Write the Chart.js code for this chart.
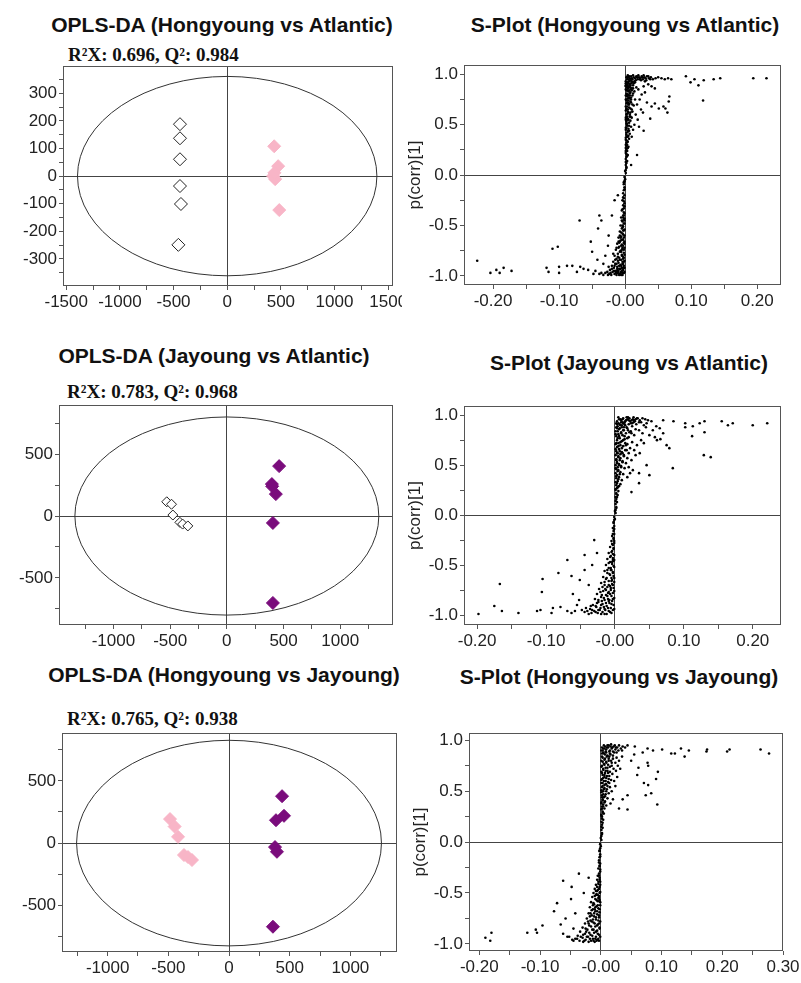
<!DOCTYPE html>
<html>
<head>
<meta charset="utf-8">
<title>OPLS-DA and S-plots</title>
<script src="https://cdn.jsdelivr.net/npm/chart.js@4.4.1/dist/chart.umd.min.js"></script>
<style>
  body { margin: 0; background: #fff; width: 801px; height: 983px; position: relative; overflow: hidden; }
  .t { position: absolute; width: 420px; text-align: center; white-space: nowrap; color: #111;
       font: bold 21px "Liberation Sans", Arial, sans-serif; line-height: 22px; }
  .s { position: absolute; white-space: nowrap; color: #111;
       font: bold 19px "Liberation Serif", "Times New Roman", serif; line-height: 20px; }
  .w { position: absolute; overflow: hidden; }
</style>
</head>
<body>

<div class="t" style="left:12px;top:14px">OPLS-DA (Hongyoung vs Atlantic)</div>
<div class="s" style="left:68px;top:45px">R²X: 0.696, Q²: 0.984</div>
<div class="t" style="left:415px;top:14px">S-Plot (Hongyoung vs Atlantic)</div>

<div class="t" style="left:4px;top:345px">OPLS-DA (Jayoung vs Atlantic)</div>
<div class="s" style="left:67px;top:382px">R²X: 0.783, Q²: 0.968</div>
<div class="t" style="left:419px;top:352px">S-Plot (Jayoung vs Atlantic)</div>

<div class="t" style="left:14px;top:664px">OPLS-DA (Hongyoung vs Jayoung)</div>
<div class="s" style="left:67px;top:709px">R²X: 0.765, Q²: 0.938</div>
<div class="t" style="left:409px;top:666px">S-Plot (Hongyoung vs Jayoung)</div>

<div class="w" id="w1"><canvas id="c1"></canvas></div>
<div class="w" id="w2"><canvas id="c2"></canvas></div>
<div class="w" id="w3"><canvas id="c3"></canvas></div>
<div class="w" id="w4"><canvas id="c4"></canvas></div>
<div class="w" id="w5"><canvas id="c5"></canvas></div>
<div class="w" id="w6"><canvas id="c6"></canvas></div>

<script>
// ---- score plots (t[1] vs to[1]) ----
const haAtlantic = [[-440, 188], [-440, 137], [-440, 61], [-440, -36], [-431, -101], [-455, -249]];
const haHongyoung = [[438, 108], [475, 36], [428, 0], [447, -11], [440, 12], [485, -123]];

const jaAtlantic = [[-530, 115], [-488, 95], [-476, 8], [-414, -51], [-390, -65], [-344, -80]];
const jaJayoung = [[461, 403], [397, 258], [432, 177], [406, -56], [400, 240], [406, -702]];

const hjHongyoung = [[-486, 193], [-448, 133], [-420, 50], [-371, -96], [-338, -112], [-305, -136]];
const hjJayoung = [[437, 377], [453, 219], [387, 184], [379, -32], [395, -70], [362, -672]];

// ---- S-plots: [p[1] x 1000, p(corr)[1] x 100] ----
const sHAPos = [
  [1,2],[1,5],[2,8],[1,10],[2,12],[3,14],[1,16],[2,18],[4,20],[1,22],[3,24],[2,26],[5,28],[1,30],[3,30],[2,32],
  [4,33],[1,35],[6,36],[3,38],[2,40],[7,41],[4,43],[1,45],[5,46],[9,48],[3,49],[2,51],[6,52],[8,54],[1,55],[4,56],
  [10,57],[3,58],[7,60],[2,60],[5,62],[11,63],[1,64],[4,65],[8,66],[3,68],[13,69],[6,70],[2,71],[9,72],[5,74],[1,75],
  [15,75],[7,76],[3,78],[11,79],[4,80],[2,81],[8,82],[14,83],[6,84],[1,85],[10,86],[3,87],[17,87],[5,88],[12,89],[2,90],
  [7,90],[9,91],[4,92],[15,92],[1,93],[6,71],[3,55],[2,47],[4,38],[1,27],[2,66],[5,79],[3,84],[8,62],[2,57],[6,44],
  [4,72],[1,88],[9,77],[12,81],[2,75],[3,90],
  [3,95],[5,97],[7,96],[9,98],[11,95],[13,97],[15,96],[17,98],[19,95],[21,97],[23,96],[25,98],[27,95],[29,97],[31,96],
  [33,98],[36,96],[39,97],[42,95],[46,96],[50,97],[55,96],[4,99],[8,94],[12,99],[16,94],[20,99],[24,94],[28,99],[14,93],
  [18,97],[22,95],[26,97],[10,96],[6,93],[2,97],[32,94],[35,98],[30,93],[38,95],
  [20,85],[25,80],[18,70],[22,75],[28,88],[30,82],[16,60],[19,55],[24,65],[12,45],[14,50],[35,90],[40,88],[45,86],
  [33,72],[27,62],[21,48],[10,38],
  [38,56],[28,44],[18,20],[9,10],[40,68],[45,71],[51,66],[58,68],[61,66],[64,62],[66,73],[67,78],[92,98],[99,92],
  [111,89],[119,94],[134,95],[144,96],[194,96],[214,96],[118,74],[60,95],[65,96],[70,95],[105,95]
];
const sHACorePos = [
  [0,4],[2,7],[1,13],[3,19],[2,21],[1,24],[4,27],[2,29],[3,34],[1,37],[5,39],[2,42],[4,44],[1,47],[6,49],[3,51],
  [2,53],[5,55],[1,57],[7,58],[3,61],[4,63],[2,65],[6,67],[1,68],[5,70],[3,72],[8,73],[2,74],[4,76],[6,77],[1,79],
  [3,80],[7,81],[5,83],[2,84],[9,85],[4,86],[6,87],[1,89],[3,89],[8,89],[5,91],[2,92],[10,93],[7,94],[1,91],[4,95],
  [6,98],[3,97],[11,92],[13,91],[8,87],[10,84],[12,86],[7,79],[9,75],[11,70],[10,65],[8,58]
];
const sHANeg = [
  [-1,-2],[-1,-6],[-2,-9],[-1,-12],[-2,-15],[-3,-18],[-1,-20],[-2,-23],[-4,-25],[-1,-28],[-3,-30],[-2,-33],[-5,-35],
  [-1,-38],[-3,-40],[-6,-42],[-2,-44],[-4,-46],[-1,-48],[-7,-50],[-3,-51],[-5,-53],[-2,-55],[-8,-56],[-4,-58],[-1,-60],
  [-6,-61],[-10,-62],[-3,-64],[-7,-65],[-2,-67],[-12,-68],[-5,-69],[-9,-71],[-1,-72],[-4,-73],[-14,-74],[-7,-75],
  [-2,-77],[-11,-78],[-5,-79],[-16,-80],[-3,-81],[-9,-82],[-13,-83],[-6,-84],[-1,-85],[-18,-86],[-4,-86],[-10,-87],
  [-15,-88],[-7,-89],[-2,-90],[-20,-90],[-12,-91],[-5,-92],[-17,-92],[-9,-93],[-3,-94],[-23,-94],[-14,-95],[-6,-96],
  [-19,-96],[-27,-96],[-11,-97],[-2,-97],[-30,-97],[-16,-98],[-8,-98],[-24,-98],[-4,-99],[-13,-99],[-21,-99],[-33,-99],
  [-36,-97],[-39,-98],[-2,-40],[-3,-55],[-1,-66],[-4,-50],[-6,-70],[-8,-76],[-3,-88],[-11,-85],[-7,-93],[-2,-82],
  [-5,-74],[-1,-45],[-12,-95],[-15,-84],[-20,-93],[-25,-91],[-10,-66],[-8,-60],[-13,-72],[-18,-78],
  [-224,-85],[-204,-97],[-195,-94],[-190,-97],[-184,-92],[-172,-95],[-119,-92],[-116,-96],[-110,-73],[-102,-71],
  [-100,-91],[-100,-97],[-88,-90],[-80,-90],[-73,-96],[-68,-91],[-63,-93],[-56,-94],[-69,-45],[-52,-66],[-41,-53],
  [-39,-40],[-42,-84],[-36,-45],[-50,-76],[-45,-95],[-48,-98],[-30,-80],[-25,-60],[-20,-40],[-16,-25],[-26,-70],
  [-33,-88],[-11,-20]
];
const sHACoreNeg = [
  [0,-4],[-2,-7],[-1,-14],[-3,-22],[-2,-26],[-1,-31],[-4,-34],[-2,-37],[-3,-42],[-1,-43],[-5,-45],[-2,-48],[-4,-52],
  [-1,-54],[-6,-57],[-3,-59],[-2,-62],[-5,-64],[-1,-68],[-8,-66],[-3,-70],[-4,-72],[-2,-74],[-6,-76],[-1,-79],[-5,-80],
  [-3,-83],[-8,-84],[-2,-86],[-4,-88],[-6,-90],[-1,-92],[-3,-92],[-9,-90],[-5,-95],[-7,-97],[-1,-96],[-10,-95],[-4,-97],
  [-12,-93],[-14,-97],[-17,-95],[-9,-99],[-6,-99],[-22,-97],[-26,-99],[-11,-81],[-13,-88],[-16,-90],[-10,-72],[-7,-62],
  [-9,-67]
];

const sJAPos = [
  [1,2],[1,5],[2,8],[1,11],[3,13],[2,16],[1,18],[4,20],[2,22],[5,24],[1,26],[3,27],[6,29],[2,30],[8,31],
  [1,33],[4,34],[10,35],[2,37],[6,38],[3,40],[12,41],[1,42],[8,43],[5,45],[2,46],[14,47],[4,48],[9,49],[1,50],[6,51],
  [16,52],[3,53],[11,54],[7,55],[2,56],[18,57],[5,58],[13,59],[1,60],[8,61],
  [4,62],[20,62],[10,63],[2,64],[15,65],[6,66],[22,67],[3,68],[12,69],[8,70],[1,71],[18,71],[5,72],[25,73],[10,74],
  [3,75],[14,76],[7,77],[20,78],[2,79],[11,80],[28,80],[5,81],[16,82],[9,83],[1,84],[23,84],[13,85],[6,86],[30,86],
  [3,87],[18,87],[10,88],[25,89],[4,89],[15,90],[7,91],[2,92],[12,92],[20,91],[27,93],[9,93],
  [3,94],[6,96],[9,95],[12,97],[15,94],[18,96],[21,97],[24,95],[27,98],[30,96],[33,97],[36,95],[40,97],[44,96],[48,95],
  [53,94],[5,98],[11,93],[17,98],[23,92],[29,94],[35,93],[14,91],[8,90],[20,95],[26,96],[31,91],[38,93],[42,90],[46,92],
  [35,85],[40,82],[45,88],[50,80],[55,85],[38,75],[32,70],[28,65],[42,72],[24,55],[30,60],[20,48],[36,62],[26,45],
  [18,38],[22,42],
  [24,23],[35,32],[35,42],[46,50],[50,40],[84,47],[129,60],[139,58],[65,87],[70,82],[79,67],[75,70],[61,75],[60,89],
  [70,95],[85,94],[102,92],[102,88],[113,89],[123,92],[130,94],[130,83],[112,79],[155,94],[164,90],[171,92],[200,90],
  [221,92],[58,78],[66,76]
];
const sJACorePos = [
  [0,4],[2,7],[1,14],[3,18],[2,21],[1,25],[4,28],[3,32],[5,36],[2,39],[7,41],[4,44],[1,47],[9,48],[6,50],[3,52],
  [11,53],[2,55],[8,57],[5,59],[13,60],[3,62],[7,64],[1,66],[10,67],[5,69],[16,70],[2,72],[8,73],[12,75],[4,77],[18,77],
  [6,79],[14,79],[1,81],[9,82],[21,83],[4,84],[12,85],[7,87],[17,88],[2,88],[10,90],[5,92],[14,93],[22,94],[8,96],
  [19,98],[3,91],[11,96],[16,95],[25,92],[28,95],[32,97],[13,88],[19,85],[24,82],[15,72],[11,62],[17,65]
];
const sJANeg = [
  [-1,-2],[-1,-5],[-2,-8],[-1,-11],[-3,-13],[-2,-16],[-1,-19],[-4,-21],[-2,-24],[-5,-26],[-1,-28],[-3,-30],[-7,-32],
  [-2,-34],[-4,-36],[-9,-38],[-1,-40],[-6,-41],[-3,-43],[-11,-44],[-2,-46],[-7,-47],[-4,-49],[-13,-50],[-1,-52],
  [-9,-53],[-5,-55],[-15,-56],[-3,-57],[-11,-58],[-7,-60],[-2,-61],[-17,-62],[-5,-63],[-13,-64],[-9,-66],[-1,-67],
  [-20,-68],[-4,-69],[-15,-70],[-7,-71],[-11,-72],[-2,-73],[-23,-74],[-6,-75],[-17,-76],[-9,-77],[-3,-78],[-26,-79],
  [-13,-80],[-5,-81],[-20,-82],[-1,-83],[-10,-84],[-29,-84],[-15,-85],[-4,-86],[-24,-87],[-8,-88],[-18,-89],[-2,-90],
  [-32,-90],[-12,-91],[-27,-92],[-6,-93],[-21,-93],[-36,-94],[-14,-95],[-3,-95],[-30,-96],[-9,-96],[-40,-96],[-18,-97],
  [-25,-98],[-5,-98],[-34,-98],[-12,-99],[-44,-97],[-48,-95],[-22,-95],[-16,-92],[-10,-78],[-6,-55],[-4,-65],[-8,-85],
  [-14,-74],[-19,-80],[-3,-45],
  [-30,-25],[-44,-40],[-44,-55],[-51,-65],[-61,-79],[-63,-61],[-69,-45],[-82,-58],[-105,-64],[-106,-77],[-79,-92],
  [-63,-98],[-69,-96],[-90,-93],[-92,-98],[-108,-95],[-113,-96],[-140,-98],[-164,-96],[-167,-69],[-175,-91],[-198,-99],
  [-55,-90],[-58,-96],[-52,-85],[-38,-70],[-33,-50],[-26,-38]
];
const sJACoreNeg = [
  [0,-4],[-2,-7],[-1,-14],[-3,-19],[-2,-23],[-1,-26],[-4,-29],[-2,-33],[-5,-37],[-3,-39],[-7,-42],[-1,-45],[-4,-47],
  [-9,-48],[-2,-51],[-6,-53],[-11,-55],[-3,-58],[-8,-59],[-1,-63],[-12,-63],[-5,-66],[-15,-67],[-3,-70],[-9,-70],
  [-18,-72],[-6,-73],[-13,-75],[-1,-76],[-21,-77],[-7,-79],[-11,-81],[-16,-83],[-3,-84],[-24,-85],[-9,-86],[-13,-88],
  [-5,-89],[-20,-90],[-28,-91],[-10,-93],[-1,-94],[-15,-94],[-24,-95],[-33,-95],[-7,-97],[-20,-99],[-28,-97],[-38,-99],
  [-15,-99],[-42,-93],[-35,-91],[-19,-86],[-26,-88]
];

const sHJPos = [
  [1,2],[1,6],[2,9],[1,12],[3,14],[2,17],[1,20],[4,22],[2,25],[1,27],[5,28],[3,30],
  [1,32],[6,33],[2,35],[9,36],[4,37],[1,39],[7,40],[3,42],[11,43],[5,44],[2,46],[8,47],[13,48],[4,50],[1,51],[10,52],
  [6,53],[15,54],[3,55],[8,57],[1,58],[12,59],[5,60],
  [17,61],[2,62],[9,63],[6,64],[14,65],[3,66],[19,67],[7,68],[1,69],[11,70],[4,71],[21,72],[8,73],[15,74],[2,75],
  [12,76],[5,77],[24,78],[9,79],[1,80],[17,80],[6,81],[13,82],[3,83],[26,83],[10,84],[20,85],[7,86],[2,87],[15,87],[4,88],
  [3,90],[6,92],[9,91],[12,93],[15,90],[18,92],[21,94],[24,91],[27,93],[30,95],[33,92],[36,94],[40,93],[5,95],[11,95],
  [17,96],[23,95],[29,90],[14,89],[8,89],[20,89],[26,88],[2,93],[35,90],
  [25,70],[28,75],[30,80],[35,84],[22,60],[27,64],[32,72],[18,50],[24,55],[20,42],[16,38],
  [30,33],[36,42],[44,32],[44,46],[74,46],[71,58],[78,56],[83,48],[93,37],[91,62],[94,69],[77,78],[78,75],[62,73],
  [55,86],[69,88],[44,95],[56,94],[77,92],[86,90],[101,91],[116,87],[122,87],[132,92],[138,84],[145,90],[174,89],
  [175,91],[208,89],[212,91],[263,91],[277,87],[50,80],[60,66]
];
const sHJCorePos = [
  [0,4],[2,8],[1,15],[3,19],[2,23],[1,26],[3,29],[2,33],[4,35],[1,38],[6,39],[3,41],[2,44],[7,45],[4,47],[1,49],
  [9,50],[5,52],[2,54],[11,55],[6,56],[3,58],[8,60],[1,61],[13,62],[4,63],[10,65],[6,66],[2,68],[15,69],[8,70],[4,72],
  [11,73],[1,74],[18,75],[6,76],[9,78],[3,79],[13,80],[7,82],[20,82],[2,84],[11,85],[16,86],[5,87],[9,88],[22,88],
  [1,90],[4,92],[7,94],[10,93],[13,95],[16,94],[19,93],[25,93],[14,84],[18,78],[12,68],[9,57],[14,58]
];
const sHJNeg = [
  [-1,-2],[-1,-6],[-2,-9],[-1,-12],[-2,-15],[-3,-18],[-1,-21],[-2,-24],[-4,-26],[-1,-29],[-3,-31],[-5,-33],[-2,-35],
  [-6,-37],[-1,-39],[-4,-41],[-8,-42],[-2,-44],[-10,-46],[-5,-47],[-1,-49],[-12,-50],[-7,-51],[-3,-53],[-14,-54],
  [-9,-56],[-2,-57],[-5,-58],[-16,-59],[-11,-61],[-1,-62],[-7,-63],[-18,-64],[-4,-65],[-13,-66],[-9,-68],[-2,-69],
  [-20,-70],[-6,-71],[-15,-72],[-11,-73],[-3,-74],[-23,-75],[-8,-76],[-17,-77],[-1,-78],[-12,-79],[-26,-80],[-5,-81],
  [-19,-82],[-9,-83],[-30,-84],[-2,-85],[-14,-86],[-22,-86],[-6,-87],[-34,-88],[-11,-89],[-26,-90],[-3,-91],[-17,-91],
  [-38,-92],[-8,-93],[-21,-93],[-30,-94],[-13,-95],[-4,-95],[-42,-95],[-25,-96],[-16,-97],[-35,-97],[-7,-97],[-47,-96],
  [-20,-98],[-29,-98],[-10,-98],[-52,-93],[-4,-55],[-6,-48],[-10,-66],[-3,-80],[-15,-78],[-24,-88],
  [-36,-31],[-48,-44],[-49,-56],[-62,-38],[-72,-60],[-77,-68],[-66,-81],[-62,-90],[-55,-93],[-96,-82],[-105,-89],
  [-107,-86],[-121,-89],[-180,-89],[-182,-97],[-190,-94],[-42,-70],[-58,-75],[-45,-85],[-28,-50],[-20,-35]
];
const sHJCoreNeg = [
  [0,-4],[-2,-8],[-1,-14],[-3,-20],[-2,-23],[-1,-27],[-3,-33],[-2,-37],[-4,-39],[-1,-42],[-6,-44],[-3,-46],[-8,-48],
  [-2,-50],[-5,-52],[-10,-53],[-3,-55],[-7,-57],[-1,-59],[-12,-60],[-5,-62],[-9,-64],[-2,-66],[-15,-67],[-6,-68],
  [-11,-70],[-3,-72],[-18,-73],[-8,-74],[-13,-76],[-4,-77],[-21,-78],[-10,-80],[-6,-82],[-16,-83],[-2,-84],[-25,-85],
  [-12,-86],[-8,-88],[-19,-89],[-5,-90],[-29,-91],[-14,-92],[-1,-93],[-23,-93],[-33,-93],[-9,-95],[-18,-95],[-39,-95],
  [-27,-97],[-12,-97],[-45,-97],[-3,-97],[-6,-96],[-20,-80],[-17,-70],[-13,-62],[-8,-52]
];

// ---- tick labels ----
const oplsXTicks1 = [-1500, -1000, -500, 0, 500, 1000, 1500];
const oplsYTicks1 = [-300, -200, -100, 0, 100, 200, 300];
const oplsXTicks = [-1000, -500, 0, 500, 1000];
const oplsYTicks = [-500, 0, 500];
const sXTicks = [-0.2, -0.1, 0, 0.1, 0.2];
const sXLabels = ['-0.20', '-0.10', '-0.00', '0.10', '0.20'];
const sXTicks3 = [-0.2, -0.1, 0, 0.1, 0.2, 0.3];
const sXLabels3 = ['-0.20', '-0.10', '-0.00', '0.10', '0.20', '0.30'];
const sYTicks = [-1, -0.5, 0, 0.5, 1];
const sYLabels = ['-1.0', '-0.5', '0.0', '0.5', '1.0'];

Chart.defaults.font.family = '"Liberation Sans", Arial, sans-serif';
Chart.defaults.font.size = 17;
Chart.defaults.color = '#222';
Chart.defaults.animation = false;

const toPts = arr => arr.map(([x, y]) => ({x, y}));
const toS = arr => arr.map(([x, y]) => ({x: x / 1000, y: y / 100}));

// ellipse (Hotelling T2) and plot frame
const frame = {
  id: 'frame',
  beforeDatasetsDraw(chart, args, opts) {
    if (!opts.rx) return;
    const {x, y} = chart.scales;
    const cx = x.getPixelForValue(0), cy = y.getPixelForValue(0);
    const ctx = chart.ctx;
    ctx.save();
    ctx.strokeStyle = '#333';
    ctx.lineWidth = 1;
    ctx.beginPath();
    ctx.ellipse(cx, cy, x.getPixelForValue(opts.rx) - cx, cy - y.getPixelForValue(opts.ry), 0, 0, Math.PI * 2);
    ctx.stroke();
    ctx.restore();
  },
  afterDraw(chart) {
    const a = chart.chartArea, ctx = chart.ctx;
    ctx.save();
    ctx.strokeStyle = '#555';
    ctx.lineWidth = 1;
    ctx.strokeRect(Math.round(a.left) + 0.5, Math.round(a.top) + 0.5,
      Math.round(a.right - a.left) - 1, Math.round(a.bottom - a.top) - 1);
    ctx.restore();
  }
};

function axis(min, max, step, vals, texts, extra) {
  return Object.assign({
    type: 'linear', min, max,
    afterBuildTicks: s => {
      const t = [];
      for (let k = Math.ceil(min / step - 1e-9); k * step <= max + 1e-9; k++) t.push({value: +(k * step).toFixed(6)});
      s.ticks = t;
    },
    ticks: {
      autoSkip: false, maxRotation: 0, minRotation: 0, padding: 2, color: '#222',
      callback: v => {
        const i = vals.findIndex(u => Math.abs(u - v) < 1e-9);
        return i < 0 ? '' : texts[i];
      }
    },
    grid: {
      color: c => (c.tick && Math.abs(c.tick.value) < 1e-9) ? '#444' : 'rgba(0,0,0,0)',
      tickColor: '#555', tickLength: 4, lineWidth: 1
    },
    border: {display: false}
  }, extra);
}

function panel(n, box, wy, xAx, yAx, datasets, ell, clipW) {
  const padT = 12, padR = 24, hx = 30;
  const left = box.l - wy, top = box.t - padT;
  const w = box.r - box.l + wy + padR, h = box.b - box.t + padT + hx;
  const wrap = document.getElementById('w' + n);
  wrap.style.left = left + 'px';
  wrap.style.top = top + 'px';
  wrap.style.width = (clipW ? clipW - left : w) + 'px';
  wrap.style.height = h + 'px';
  const cv = document.getElementById('c' + n);
  cv.width = w; cv.height = h;
  cv.style.width = w + 'px'; cv.style.height = h + 'px';
  xAx.afterFit = s => { s.height = hx; };
  yAx.afterFit = s => { s.width = wy; };
  return new Chart(cv, {
    type: 'scatter',
    data: {datasets},
    options: {
      responsive: false,
      devicePixelRatio: 1,
      layout: {padding: {left: 0, top: padT, right: padR, bottom: 0}},
      plugins: {legend: {display: false}, tooltip: {enabled: false}, frame: ell || {}},
      scales: {x: xAx, y: yAx}
    },
    plugins: [frame]
  });
}

const openDia = r => ({pointStyle: 'rectRot', pointRadius: r, backgroundColor: '#fff', borderColor: '#222', borderWidth: 1});
const fillDia = (r, c) => ({pointStyle: 'rectRot', pointRadius: r, backgroundColor: c, borderColor: c, borderWidth: 1});
const dots = {pointRadius: 1.3, backgroundColor: '#000', borderWidth: 0};
const pink = '#f8b5c7', purple = '#7a0c7c';
const yTitle = {display: true, text: 'p(corr)[1]', color: '#222', font: {size: 17}, padding: {top: 4, bottom: 0}};

const s = v => v.map(String);
const sSet = (...parts) => [Object.assign({label: 'S', data: toS([].concat(...parts))}, dots)];

panel(1, {l: 63, t: 66, r: 393, b: 286}, 50,
  axis(-1530, 1545, 250, oplsXTicks1, s(oplsXTicks1)),
  axis(-398, 398, 50, oplsYTicks1, s(oplsYTicks1)),
  [Object.assign({label: 'Atlantic', data: toPts(haAtlantic)}, openDia(6.5)),
   Object.assign({label: 'Hongyoung', data: toPts(haHongyoung)}, fillDia(6.5, pink))],
  {rx: 1395, ry: 361}, 402);

panel(2, {l: 464, t: 65, r: 781, b: 285}, 63,
  axis(-0.244, 0.236, 0.05, sXTicks, sXLabels),
  axis(-1.09, 1.09, 0.25, sYTicks, sYLabels, {title: yTitle}),
  sSet(sHAPos, sHACorePos, sHANeg, sHACoreNeg));

panel(3, {l: 59, t: 405, r: 393, b: 625}, 50,
  axis(-1480, 1465, 250, oplsXTicks, s(oplsXTicks)),
  axis(-880, 895, 250, oplsYTicks, s(oplsYTicks)),
  [Object.assign({label: 'Atlantic', data: toPts(jaAtlantic)}, openDia(5)),
   Object.assign({label: 'Jayoung', data: toPts(jaJayoung)}, fillDia(6.5, purple))],
  {rx: 1340, ry: 800});

panel(4, {l: 464, t: 406, r: 781, b: 625}, 63,
  axis(-0.219, 0.241, 0.05, sXTicks, sXLabels),
  axis(-1.10, 1.09, 0.25, sYTicks, sYLabels, {title: yTitle}),
  sSet(sJAPos, sJACorePos, sJANeg, sJACoreNeg));

panel(5, {l: 62, t: 733, r: 397, b: 952}, 50,
  axis(-1376, 1384, 250, oplsXTicks, s(oplsXTicks)),
  axis(-875, 883, 250, oplsYTicks, s(oplsYTicks)),
  [Object.assign({label: 'Hongyoung', data: toPts(hjHongyoung)}, fillDia(6.5, pink)),
   Object.assign({label: 'Jayoung', data: toPts(hjJayoung)}, fillDia(6.5, purple))],
  {rx: 1256, ry: 826});

panel(6, {l: 469, t: 733, r: 783, b: 951}, 63,
  axis(-0.217, 0.30, 0.05, sXTicks3, sXLabels3),
  axis(-1.07, 1.07, 0.25, sYTicks, sYLabels, {title: yTitle}),
  sSet(sHJPos, sHJCorePos, sHJNeg, sHJCoreNeg));
</script>
</body>
</html>
